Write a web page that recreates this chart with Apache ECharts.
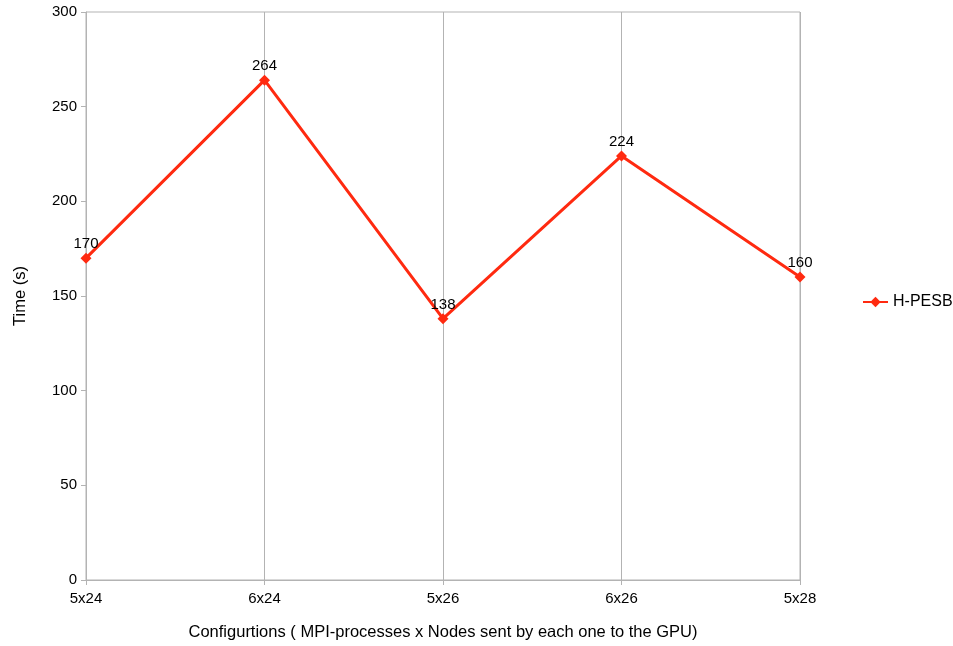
<!DOCTYPE html>
<html>
<head>
<meta charset="utf-8">
<script src="https://cdn.jsdelivr.net/npm/echarts@6/dist/echarts.min.js"></script>
<style>
  html, body { margin: 0; padding: 0; background: #fff; }
  #chart { width: 953px; height: 646px; }
</style>
</head>
<body>
<div id="chart"></div>
<script>
// Configurations and measured run times
const categories = ['5x24', '6x24', '5x26', '6x26', '5x28'];
const seriesName = 'H-PESB';
const timeValues = [170, 264, 138, 224, 160];
const yTicks = { min: 0, max: 300, step: 50 };

const FONT = '"Liberation Sans", Arial, sans-serif';
const GREY = '#b3b3b3';
const RED = '#ff2a10';

const chart = echarts.init(document.getElementById('chart'), null, { renderer: 'canvas' });

chart.setOption({
  animation: false,
  backgroundColor: '#ffffff',
  textStyle: { fontFamily: FONT },
  grid: {
    left: 86, right: 153, top: 12, bottom: 66,
    outerBoundsMode: 'none',
    containLabel: false,
    show: true, borderColor: GREY, borderWidth: 1, backgroundColor: 'transparent'
  },
  legend: {
    data: [seriesName],
    orient: 'vertical',
    left: 862, top: 294,
    padding: 0,
    itemWidth: 25, itemHeight: 13,
    itemGap: 6,
    textStyle: { fontFamily: FONT, fontSize: 16, color: '#000' }
  },
  xAxis: {
    type: 'category',
    data: categories,
    boundaryGap: false,
    name: 'Configurtions ( MPI-processes x Nodes sent by each one to the GPU)',
    nameLocation: 'middle',
    nameGap: 44,
    nameTextStyle: { fontFamily: FONT, fontSize: 16.5, color: '#000' },
    axisLine: { show: true, lineStyle: { color: GREY, width: 1 } },
    axisTick: { show: true, length: 5, alignWithLabel: true, lineStyle: { color: GREY } },
    axisLabel: { fontFamily: FONT, fontSize: 15, color: '#000', margin: 11 },
    splitLine: { show: true, lineStyle: { color: GREY, width: 1 } }
  },
  yAxis: {
    type: 'value',
    min: yTicks.min, max: yTicks.max, interval: yTicks.step,
    name: 'Time (s)',
    nameLocation: 'middle',
    nameGap: 57,
    nameRotate: 90,
    nameTextStyle: { fontFamily: FONT, fontSize: 16.5, color: '#000' },
    axisLine: { show: true, lineStyle: { color: GREY, width: 1 } },
    axisTick: { show: true, length: 5, lineStyle: { color: GREY } },
    axisLabel: { fontFamily: FONT, fontSize: 15, color: '#000', margin: 9 },
    splitLine: { show: false }
  },
  series: [{
    name: seriesName,
    type: 'line',
    data: timeValues,
    symbol: 'diamond',
    symbolSize: 11,
    itemStyle: { color: RED },
    lineStyle: { color: RED, width: 3 },
    label: {
      show: true, position: 'top', distance: 1,
      fontFamily: FONT, fontSize: 15, color: '#000'
    }
  }]
});
</script>
</body>
</html>
